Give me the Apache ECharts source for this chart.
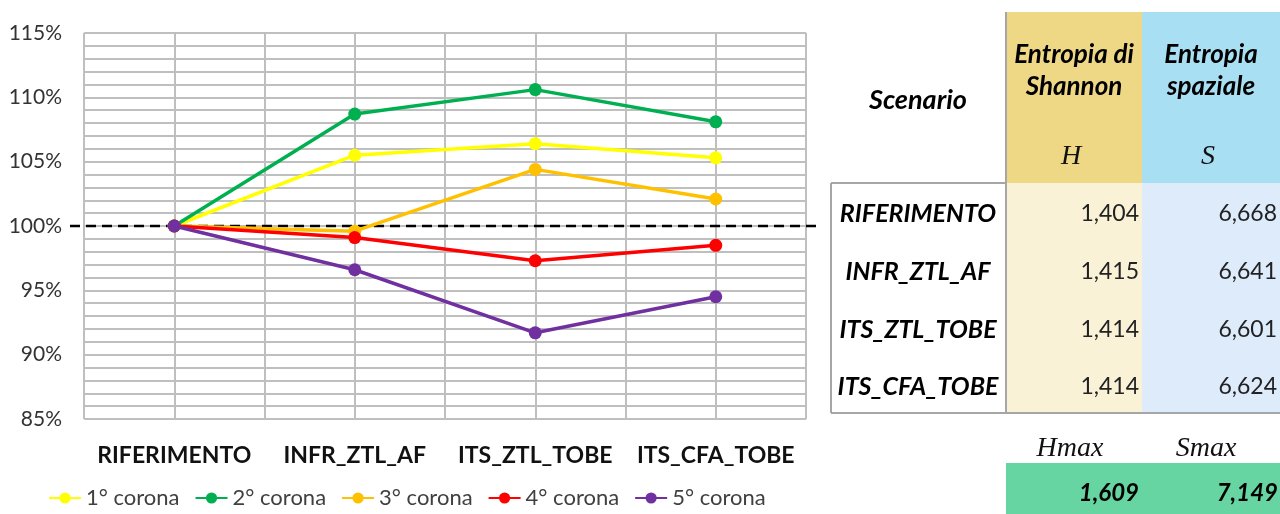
<!DOCTYPE html>
<html>
<head>
<meta charset="utf-8">
<script src="https://cdn.jsdelivr.net/npm/echarts@6/dist/echarts.min.js"></script>
<style>
html,body{margin:0;padding:0;background:#fff;}
#chart{width:1280px;height:514px;}
</style>
</head>
<body>
<div id="chart"></div>
<script>
// ---- Data ----
const categories = ['RIFERIMENTO', 'INFR_ZTL_AF', 'ITS_ZTL_TOBE', 'ITS_CFA_TOBE'];
const seriesNames = ['1° corona', '2° corona', '3° corona', '4° corona', '5° corona'];
const corona1 = [100, 105.5, 106.4, 105.3];
const corona2 = [100, 108.7, 110.6, 108.1];
const corona3 = [100, 99.6, 104.4, 102.1];
const corona4 = [100, 99.1, 97.3, 98.5];
const corona5 = [100, 96.6, 91.7, 94.5];
const referenceLevel = 100;
const yMin = 85, yMax = 115, yStep = 5;

// table
const tableHeaderScenario = 'Scenario';
const tableHeaderH = ['Entropia di', 'Shannon'];
const tableHeaderS = ['Entropia', 'spaziale'];
const symbolH = 'H', symbolS = 'S';
const entropyH = ['1,404', '1,415', '1,414', '1,414'];
const entropyS = ['6,668', '6,641', '6,601', '6,624'];
const maxLabels = ['Hmax', 'Smax'];
const maxValues = ['1,609', '7,149'];

const colors = ['#FFFF00', '#00B050', '#FFC000', '#FF0000', '#7030A0'];
const allData = [corona1, corona2, corona3, corona4, corona5];

const FONT = 'Lato, "Liberation Sans", sans-serif';
const chart = echarts.init(document.getElementById('chart'), null, {renderer: 'canvas'});

const gridStyle = {color: '#BFBFBF', width: 2};

// ---- Table graphics ----
const tX0 = 831, tX1 = 1006, tX2 = 1142, tX3 = 1280;
const tTop = 12, tHeadBottom = 183, tBottom = 413;
const rowY = [214, 272, 330, 387];
const borderCol = '#A6A6A6';

const g = [];
g.push({type: 'rect', shape: {x: tX1, y: tTop, width: tX2 - tX1, height: tHeadBottom - tTop}, style: {fill: '#EFD885'}, z: 10});
g.push({type: 'rect', shape: {x: tX2, y: tTop, width: tX3 - tX2, height: tHeadBottom - tTop}, style: {fill: '#A9DFF3'}, z: 10});
g.push({type: 'rect', shape: {x: tX1, y: tHeadBottom, width: tX2 - tX1, height: tBottom - tHeadBottom}, style: {fill: '#FAF2D6'}, z: 10});
g.push({type: 'rect', shape: {x: tX2, y: tHeadBottom, width: tX3 - tX2, height: tBottom - tHeadBottom}, style: {fill: '#DDEBFB'}, z: 10});
g.push({type: 'rect', shape: {x: tX1, y: 463, width: tX3 - tX1, height: 51}, style: {fill: '#66D5A2'}, z: 10});
// borders
const bl = (x1, y1, x2, y2) => ({type: 'line', shape: {x1, y1, x2, y2}, style: {stroke: borderCol, lineWidth: 2}, z: 11});
g.push(bl(tX0, tHeadBottom, tX1, tHeadBottom));
g.push(bl(tX0, tHeadBottom, tX0, tBottom));
g.push(bl(tX0, tBottom, tX3, tBottom));
g.push(bl(tX1, tTop, tX1, tBottom));
// header texts
const txt = (x, y, text, opts) => ({type: 'text', x, y, z: 12, style: Object.assign({text, fill: '#000', fontFamily: FONT, fontSize: 25, fontWeight: 'bold', fontStyle: 'italic', align: 'center', verticalAlign: 'middle'}, opts || {})});
g.push(txt(918, 100, tableHeaderScenario, {fontSize: 27}));
g.push(txt(1074, 55, tableHeaderH[0], {fontSize: 26}));
g.push(txt(1074, 87, tableHeaderH[1], {fontSize: 26}));
g.push(txt(1211, 55, tableHeaderS[0], {fontSize: 26}));
g.push(txt(1211, 87, tableHeaderS[1], {fontSize: 26}));
const serif = {fontFamily: '"Liberation Serif", "DejaVu Serif", serif', fontWeight: 'normal', fontStyle: 'italic', fontSize: 28, fill: '#111'};
g.push(txt(1071, 157, symbolH, serif));
g.push(txt(1208, 157, symbolS, serif));
categories.forEach((c, i) => {
  g.push(txt(918, rowY[i], c));
  g.push(txt(1139, rowY[i], entropyH[i], {fontWeight: 'normal', fontStyle: 'normal', align: 'right', fontSize: 23, fill: '#222'}));
  g.push(txt(1277, rowY[i], entropyS[i], {fontWeight: 'normal', fontStyle: 'normal', align: 'right', fontSize: 23, fill: '#222'}));
});
g.push(txt(1070, 449, maxLabels[0], serif));
g.push(txt(1206, 449, maxLabels[1], serif));
g.push(txt(1139, 493, maxValues[0], {align: 'right', fontSize: 24}));
g.push(txt(1278, 493, maxValues[1], {align: 'right', fontSize: 24}));

const option = {
  backgroundColor: '#fff',
  animation: false,
  color: colors,
  grid: {left: 84, right: 474, top: 33, bottom: 95, containLabel: false},
  legend: {
    left: 43, top: 482,
    itemWidth: 32, itemHeight: 14, itemGap: 15,
    textStyle: {fontFamily: FONT, fontSize: 22, color: '#404040'},
    data: seriesNames
  },
  xAxis: [{
    type: 'category', data: categories, boundaryGap: true,
    axisLine: {show: false}, axisTick: {show: false}, splitLine: {show: false},
    axisLabel: {fontFamily: FONT, fontSize: 23, fontWeight: 'bold', color: '#111', margin: 25, interval: 0}
  }, {
    type: 'value', min: 0, max: 8, interval: 1, position: 'bottom',
    axisLine: {show: false}, axisTick: {show: false}, axisLabel: {show: false},
    splitLine: {show: true, lineStyle: gridStyle}
  }],
  yAxis: {
    type: 'value', min: yMin, max: yMax, interval: yStep,
    axisLine: {show: false}, axisTick: {show: false},
    axisLabel: {formatter: '{value}%', fontFamily: FONT, fontSize: 21, color: '#333', margin: 22},
    splitLine: {show: true, lineStyle: gridStyle},
    minorTick: {show: false, splitNumber: 5},
    minorSplitLine: {show: true, lineStyle: gridStyle}
  },
  series: allData.map((d, i) => ({
    name: seriesNames[i], type: 'line', data: d, xAxisIndex: 0,
    symbol: 'circle', symbolSize: 13,
    lineStyle: {width: 3.5, color: colors[i]},
    itemStyle: {color: colors[i]},
    z: 3 + i
  })),
  graphic: g
};
chart.setOption(option);

// dashed reference line at 100%, positioned through the y axis scale
const y100 = chart.convertToPixel({yAxisIndex: 0}, referenceLevel);
chart.setOption({graphic: g.concat([{
  type: 'line', z: 1, zlevel: 0,
  shape: {x1: 70, y1: y100, x2: 816, y2: y100},
  style: {stroke: '#000', lineWidth: 2.5, lineDash: [10, 6]}
}])}, {replaceMerge: ['graphic']});
</script>
</body>
</html>
